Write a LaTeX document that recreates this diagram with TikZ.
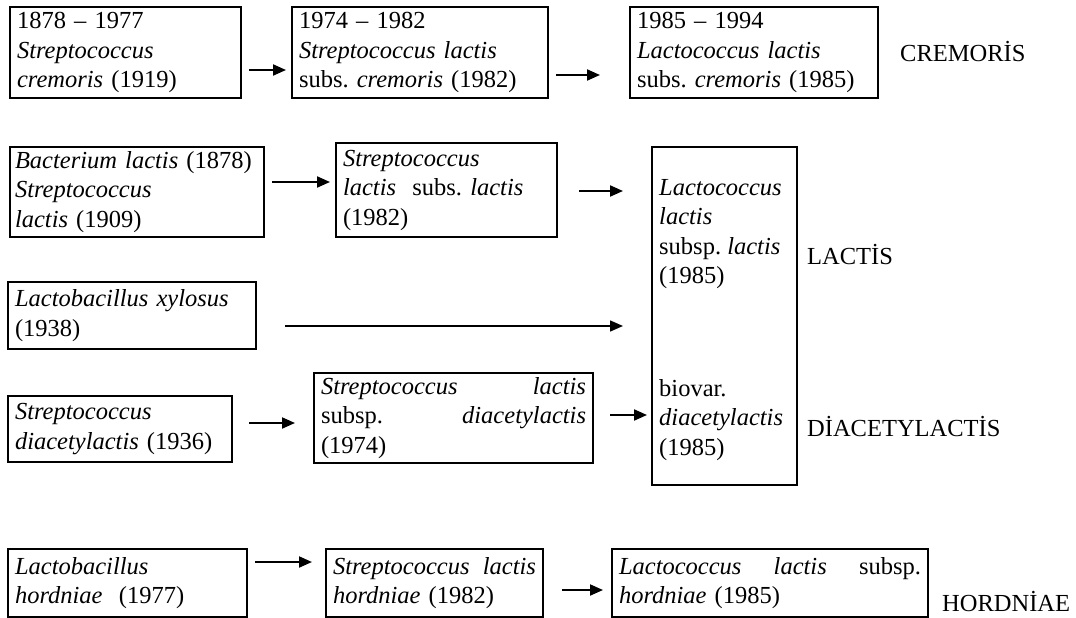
\documentclass[tikz,border=0pt]{standalone}
\usepackage{fontspec}
\setmainfont{Liberation Serif}
\usetikzlibrary{arrows.meta,calc}
\frenchspacing
\tikzset{
  box/.style={draw, line width=1.5pt, anchor=north west, inner xsep=7pt, inner ysep=0pt, outer sep=0pt, align=left, font=\fontsize{24.5}{29.5}\selectfont},
  arr/.style={line width=2pt, -{Triangle[length=13pt,width=11pt]}},
  thinarr/.style={line width=1.5pt, -{Triangle[length=13pt,width=11pt]}},
  lbl/.style={anchor=west, inner sep=0pt, align=left, font=\fontsize{24.5}{29.5}\selectfont},
}
\begin{document}
\begin{tikzpicture}[x=1pt,y=-1pt]
\useasboundingbox (0,0) rectangle (1076,618);
% row 1
\node[box, text width=217pt, minimum height=91pt] (A1) at (10,7) {1878 – 1977\\ \textit{Streptococcus}\\ \textit{cremoris} (1919)};
\node[box, text width=242pt, minimum height=91pt] (A2) at (292,7) {1974 – 1982\\ \textit{Streptococcus lactis}\\ subs. \textit{cremoris} (1982)};
\node[box, text width=234pt, minimum height=91pt] (A3) at (630,7) {1985 – 1994\\ \textit{Lactococcus lactis}\\ subs. \textit{cremoris} (1985)};
\node[lbl] (cre) at (900,52) {CREMORİS};
% row 2
\node[box, inner xsep=5pt, text width=244pt, minimum height=90pt] (B1) at (10,147) {\textit{Bacterium lactis} (1878)\\ \textit{Streptococcus}\\ \textit{lactis} (1909)};
\node[box, text width=207pt, minimum height=94pt] (B2) at (336,143) {\textit{Streptococcus}\\ \textit{lactis}\ \ subs. \textit{lactis}\\ (1982)};
\node[box, text width=131pt, minimum height=338pt] (C) at (652,147) {};
\node[lbl] (C1) at (659,234) {\textit{Lactococcus}\\ \textit{lactis}\\ subsp. \textit{lactis}\\ (1985)};
\node[lbl] (C2) at (659,420) {biovar.\\ \textit{diacetylactis}\\ (1985)};
\node[lbl] (lac) at (807,255) {LACTİS};
\node[lbl] (dia) at (807,427) {DİACETYLACTİS};
% row 3
\node[box, text width=234pt, minimum height=67pt] (X1) at (8,282) {\textit{Lactobacillus xylosus}\\ (1938)};
% row 4
\node[box, text width=210pt, minimum height=66pt] (S1) at (8,396) {\textit{Streptococcus}\\ \textit{diacetylactis} (1936)};
\node[box, text width=265pt, minimum height=90pt] (S2) at (314,373) {\textit{Streptococcus}\hfill\textit{lactis}\\ subsp.\hfill\textit{diacetylactis}\\ (1974)};
% row 5
\node[box, text width=225pt, minimum height=68pt] (D1) at (8,549) {\textit{Lactobacillus}\\ \textit{hordniae}\ \ (1977)};
\node[box, text width=203pt, minimum height=68pt] (D2) at (326,549) {\textit{Streptococcus}\hfill\textit{lactis}\\ \textit{hordniae} (1982)};
\node[box, text width=302pt, minimum height=68pt] (D3) at (612,549) {\textit{Lactococcus}\hfill\textit{lactis}\hfill subsp.\\ \textit{hordniae} (1985)};
\node[lbl] (hor) at (942,602) {HORDNİAE};
% arrows
\draw[arr] ($(A1.east)+(8,17.5)$) -- ($(A2.west)+(-6,17.5)$);
\draw[arr] ($(A2.east)+(8,22.5)$) -- ($(A3.west)+(-30,22.5)$);
\draw[arr] ($(B1.east)+(8,-10)$) -- ($(B2.west)+(-6,-8)$);
\draw[arr] ($(B2.east)+(22,1)$) -- ($(C.west)+(-29,-125)$);
\draw[thinarr] ($(X1.east)+(29,10.5)$) -- ($(C.west)+(-29,10)$);
\draw[arr] ($(S1.east)+(17,-6)$) -- ($(S2.west)+(-19,5)$);
\draw[arr] ($(S2.east)+(17,-3)$) -- ($(C.west)+(-5,99)$);
\draw[arr] ($(D1.east)+(8,-21)$) -- ($(D2.west)+(-14,-21)$);
\draw[arr] ($(D2.east)+(19,7)$) -- ($(D3.west)+(-9,7)$);
\end{tikzpicture}
\end{document}
